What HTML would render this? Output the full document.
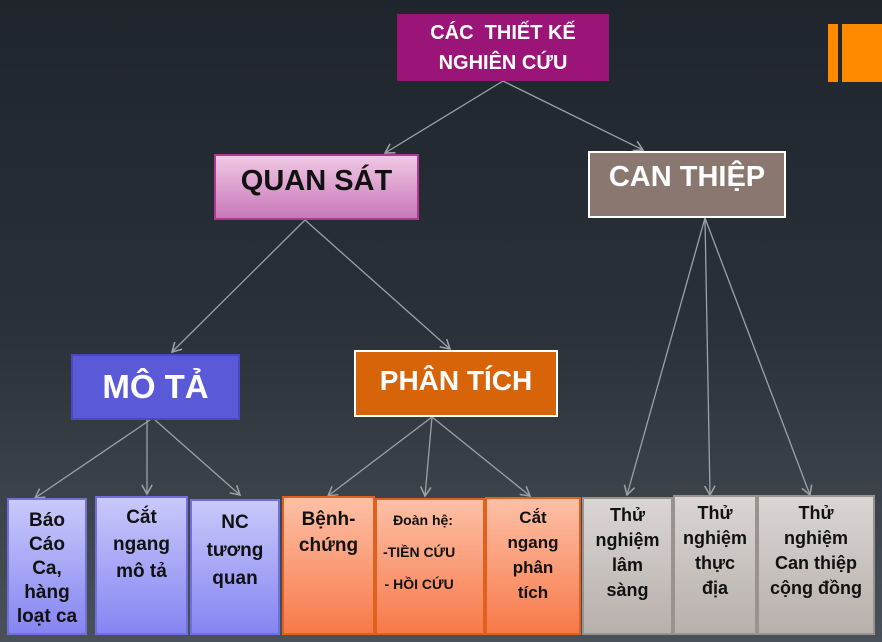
<!DOCTYPE html>
<html><head><meta charset="utf-8"><style>
body{margin:0;width:882px;height:642px;overflow:hidden;background:linear-gradient(#1f252c,#2a3038 50%,#4a5159);font-family:"Liberation Sans",sans-serif;position:relative}
.b{position:absolute;box-sizing:border-box;text-align:center;font-weight:bold;display:flex;flex-direction:column;align-items:center}
.p{background:linear-gradient(#c9c9fb,#8585f2);border:2px solid #7070d8;color:#111;font-size:19px;line-height:26px;padding-top:8px}
.o{background:linear-gradient(#fdc0a6,#f8794a);border:2px solid #e0601e;color:#111;font-size:19px;line-height:26px;padding-top:8px}
.g{background:linear-gradient(#dad6d4,#b7b0ac);border:2px solid #9a928e;color:#111;font-size:18px;line-height:25px;padding-top:4px}
</style></head><body>
<svg width="882" height="642" style="position:absolute;left:0;top:0">
<defs><marker id="a" markerWidth="10" markerHeight="10" refX="8" refY="5" orient="auto"><path d="M1,1 L8,5 L1,9" fill="none" stroke="#9aa2a8" stroke-width="1.2"/></marker></defs>
<g stroke="#9aa2a8" stroke-width="1.3" marker-end="url(#a)">
<line x1="503" y1="81" x2="385" y2="153"/><line x1="503" y1="81" x2="643" y2="150"/>
<line x1="305" y1="220" x2="172" y2="352"/><line x1="305" y1="220" x2="450" y2="349"/>
<line x1="705" y1="218" x2="627" y2="495"/><line x1="705" y1="218" x2="710" y2="495"/><line x1="705" y1="218" x2="810" y2="495"/>
<line x1="150" y1="420" x2="35" y2="498"/><line x1="147" y1="420" x2="147" y2="494"/><line x1="155" y1="420" x2="240" y2="495"/>
<line x1="432" y1="417" x2="328" y2="496"/><line x1="432" y1="417" x2="425" y2="496"/><line x1="432" y1="417" x2="530" y2="496"/>
</g></svg>
<div style="position:absolute;left:828px;top:24px;width:10px;height:58px;background:#ff8a00"></div>
<div style="position:absolute;left:842px;top:24px;width:40px;height:58px;background:#ff8a00"></div>
<div class="b" style="left:397px;top:14px;width:212px;height:67px;background:#9b1478;color:#fff;font-size:20px;line-height:30px;justify-content:center">CÁC&nbsp; THIẾT KẾ<br>NGHIÊN CỨU</div>
<div class="b" style="left:214px;top:154px;width:205px;height:66px;background:linear-gradient(#f0c8e4,#c878b8);border:2px solid #b03890;color:#111;font-size:29px;padding-top:9px">QUAN SÁT</div>
<div class="b" style="left:588px;top:151px;width:198px;height:67px;background:#8a7770;border:2px solid #fff;color:#fff;font-size:29px;padding-top:8px">CAN THIỆP</div>
<div class="b" style="left:71px;top:354px;width:169px;height:66px;background:#5a5ad8;border:2px solid #4a4ac0;color:#fff;font-size:33px;padding-top:12px">MÔ TẢ</div>
<div class="b" style="left:354px;top:350px;width:204px;height:67px;background:#d8640a;border:2px solid #fff;color:#fff;font-size:28px;padding-top:13px">PHÂN TÍCH</div>
<div class="b p" style="left:7px;top:498px;width:80px;height:137px;line-height:24px;padding-top:9px">Báo<br>Cáo<br>Ca,<br>hàng<br>loạt ca</div>
<div class="b p" style="left:95px;top:496px;width:93px;height:139px;line-height:27px;padding-top:6px">Cắt<br>ngang<br>mô tả</div>
<div class="b p" style="left:190px;top:499px;width:90px;height:136px;line-height:28px;padding-top:8px">NC<br>tương<br>quan</div>
<div class="b o" style="left:282px;top:496px;width:93px;height:139px;padding-top:9px">Bệnh-<br>chứng</div>
<div class="b o" style="left:375px;top:498px;width:110px;height:137px;font-size:14px;line-height:32px;padding-top:4px;align-items:flex-start;padding-left:6px">&nbsp;&nbsp;Đoàn hệ:<br>-TIỀN CỨU<br>- HỒI CỨU</div>
<div class="b o" style="left:485px;top:497px;width:96px;height:138px;font-size:17px;line-height:25px;padding-top:6px">Cắt<br>ngang<br>phân<br>tích</div>
<div class="b g" style="left:582px;top:497px;width:91px;height:138px;line-height:25px">Thử<br>nghiệm<br>lâm<br>sàng</div>
<div class="b g" style="left:673px;top:495px;width:84px;height:140px;line-height:25px">Thử<br>nghiệm<br>thực<br>địa</div>
<div class="b g" style="left:757px;top:495px;width:118px;height:140px;line-height:25px">Thử<br>nghiệm<br>Can thiệp<br>cộng đồng</div>
</body></html>
